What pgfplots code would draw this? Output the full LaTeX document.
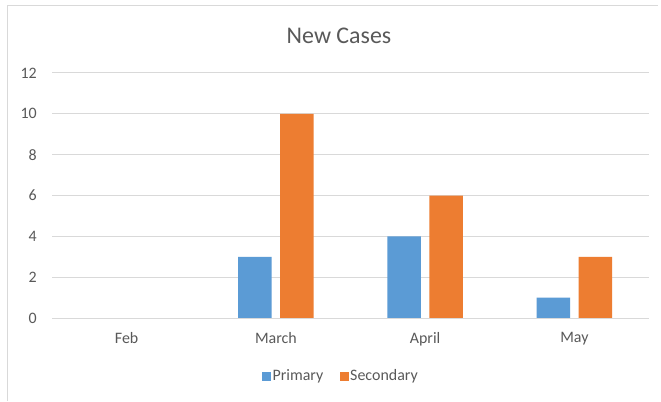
\documentclass[border=0pt]{standalone}
\usepackage{fontspec}
\setmainfont{Carlito}
\usepackage{pgfplots}
\pgfplotsset{compat=1.18}
\definecolor{cblue}{HTML}{5B9BD5}
\definecolor{corange}{HTML}{ED7D31}
\definecolor{cgrid}{HTML}{D9D9D9}
\definecolor{ctext}{HTML}{595959}
\begin{document}
\begin{tikzpicture}[x=1bp,y=1bp]
\useasboundingbox (0,0) rectangle (661,401);
\fill[white] (0,0) rectangle (661,401);
\draw[cgrid, line width=1.5bp] (7.5,0) -- (7.5,395.5) -- (658,395.5);
\begin{axis}[
  at={(52bp,83bp)}, anchor=south west,
  scale only axis, width=597bp, height=245bp,
  ybar=8.5bp, bar width=33.5bp,
  xmin=-0.5, xmax=3.5, ymin=0, ymax=12,
  xtick=data, xticklabels={Feb,March,April,May},
  ytick={0,2,...,12},
  axis x line*=bottom, axis y line*=left,
  x axis line style={cgrid, line width=1bp, -},
  y axis line style={draw=none},
  ymajorgrids, grid style={cgrid, line width=1bp},
  major tick length=0pt,
  tick label style={font=\fontsize{16}{19}\selectfont, text=ctext},
  /pgf/number format/assume math mode=true,
  yticklabel style={anchor=east, inner sep=0pt, xshift=-15bp},
  xticklabel style={anchor=north, inner sep=0pt, yshift=-14bp},
  legend style={at={(axis description cs:0.4835,-0.237)}, anchor=center, draw=none, fill=none,
    legend columns=2, font=\fontsize{16}{19}\selectfont, text=ctext,
    nodes={inner sep=1.5bp},
    /tikz/every odd column/.append style={column sep=0bp},
    /tikz/every even column/.append style={column sep=15bp}},
  legend image code/.code={\fill[#1] (0bp,-4.5bp) rectangle (9bp,4.5bp);},
]
\addplot[fill=cblue, draw=none] coordinates {(0,0) (1,3) (2,4) (3,1)};
\addplot[fill=corange, draw=none] coordinates {(0,0) (1,10) (2,6) (3,3)};
\draw[cgrid, line width=1bp] (axis cs:-0.5,0) -- (axis cs:3.5,0);
\legend{Primary,Secondary}
\end{axis}
\node[font=\fontsize{24}{29}\selectfont, text=ctext] at (339,365) {New Cases};
\end{tikzpicture}
\end{document}
